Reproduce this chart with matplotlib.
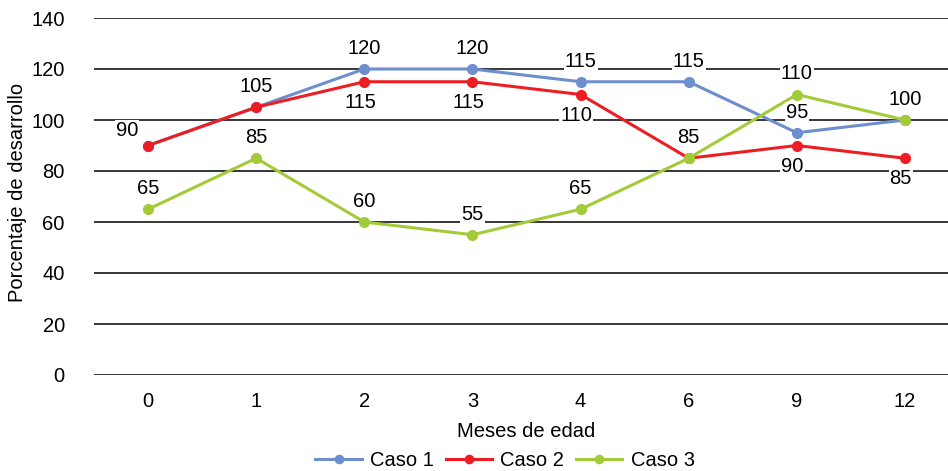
import matplotlib
matplotlib.use("Agg")
import matplotlib.pyplot as plt

plt.rcParams['font.family'] = ['Liberation Sans', 'DejaVu Sans']

meses = ["0", "1", "2", "3", "4", "6", "9", "12"]
caso1 = [90, 105, 120, 120, 115, 115, 95, 100]
caso2 = [90, 105, 115, 115, 110, 85, 90, 85]
caso3 = [65, 85, 60, 55, 65, 85, 110, 100]

series = [
    ("Caso 1", caso1, "#6E8FCD"),
    ("Caso 2", caso2, "#EE1D24"),
    ("Caso 3", caso3, "#A3CB38"),
]

# label placement per point: 'a' above, 'b' below, 'l' left, None no label
placement = {
    "Caso 1": ['l', 'a', 'a', 'a', 'a', 'a', 'a', 'a'],
    "Caso 2": [None, None, 'b', 'b', 'b', None, 'b', 'b'],
    "Caso 3": ['a', 'a', 'a', 'a', 'a', 'a', 'a', None],
}

W, H = 948, 471
fig = plt.figure(figsize=(W / 100, H / 100), dpi=100)
ax = fig.add_axes([94 / W, 96 / H, (959 - 94) / W, (453 - 96) / H])

x = list(range(len(meses)))
fs = 14.5

for name, vals, color in series:
    ax.plot(x, vals, color=color, lw=2.2, marker='o', markersize=7,
            label=name, zorder=3, clip_on=False)

for name, vals, color in series:
    for xi, v, p in zip(x, vals, placement[name]):
        if p is None:
            continue
        if p == 'a':
            off, ha, va = (0, 8), 'center', 'bottom'
        elif p == 'b':
            off, ha, va = (-3, -8), 'center', 'top'
        else:
            off, ha, va = (-7, 4), 'right', 'bottom'
        ax.annotate(str(v), (xi, v), xytext=off, textcoords='offset points',
                    ha=ha, va=va, fontsize=fs, zorder=4,
                    bbox=dict(boxstyle='square,pad=0.05', fc='white', ec='none'))

ax.set_xlim(-0.5, len(meses) - 0.5)
ax.set_ylim(0, 140)
ax.set_yticks(range(0, 141, 20))
ax.set_xticks(x)
ax.set_xticklabels(meses)
ax.tick_params(axis='both', length=0, labelsize=fs)
ax.tick_params(axis='y', pad=21)
ax.tick_params(axis='x', pad=12)
ax.grid(axis='y', color='black', lw=1.1, zorder=0)
ax.set_axisbelow(True)
for s in ax.spines.values():
    s.set_visible(False)

ax.set_xlabel("Meses de edad", fontsize=fs, labelpad=8)
fig.text(18 / W, 1 - 192 / H, "Porcentaje de desarrollo", rotation=90,
         ha='center', va='center', fontsize=fs)

fig.legend(loc='center', bbox_to_anchor=(505 / W, 1 - 461 / H), ncol=3,
           frameon=False, fontsize=fs, handlelength=2.3, columnspacing=0.6,
           handletextpad=0.4, borderaxespad=0, markerscale=0.85)

fig.savefig("out.png", dpi=100)
